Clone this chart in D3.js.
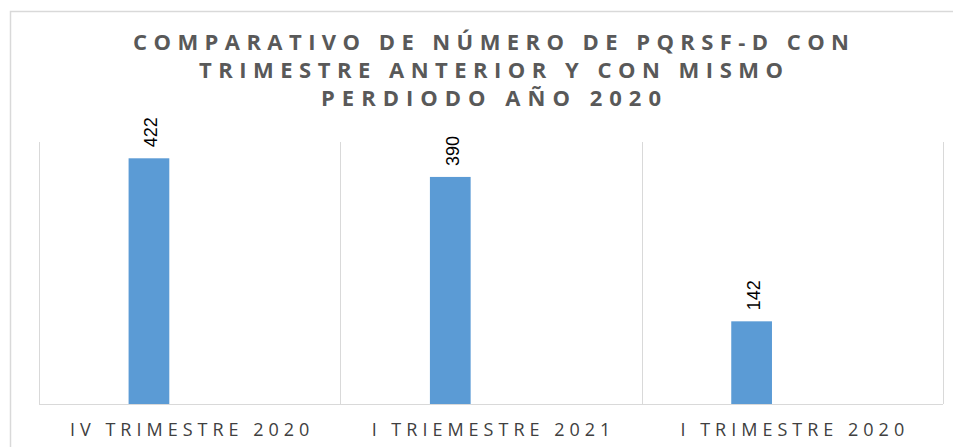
<!DOCTYPE html>
<html>
<head>
<meta charset="utf-8">
<script src="https://cdn.jsdelivr.net/npm/d3@7"></script>
<style>
  html, body { margin: 0; padding: 0; background: #ffffff; }
  svg { display: block; }
</style>
</head>
<body>
<div id="chart"></div>
<script>
// ---- data ----
const titleLines = [
  "COMPARATIVO DE NÚMERO DE PQRSF-D CON",
  "TRIMESTRE ANTERIOR Y CON MISMO",
  "PERDIODO AÑO 2020"
];
const categories = ["IV TRIMESTRE 2020", "I TRIEMESTRE 2021", "I TRIMESTRE 2020"];
const values = [422, 390, 142];
const seriesSlots = ["serie1", "serie2", "serie3"];
const yDomain = [0, 450];

// ---- layout ----
const W = 953, H = 447;
const plot = { left: 39, right: 943, top: 142, bottom: 404 };

const svg = d3.select("#chart").append("svg")
  .attr("width", W).attr("height", H);

// outer chart border (partially visible)
svg.append("rect")
  .attr("x", 10.5).attr("y", 11.5)
  .attr("width", 962).attr("height", 460)
  .attr("fill", "#ffffff")
  .attr("stroke", "#d9d9d9").attr("stroke-width", 1.5);

const x = d3.scaleBand().domain(categories).range([plot.left, plot.right]).padding(0);
const xInner = d3.scaleBand().domain(seriesSlots).range([0, x.bandwidth()])
  .paddingInner(0).paddingOuter(2.2);
const y = d3.scaleLinear().domain(yDomain).range([plot.bottom, plot.top]);

// vertical gridlines between categories
const gridX = categories.map(c => x(c)).concat([x(categories[categories.length - 1]) + x.bandwidth()]);
svg.append("g").selectAll("line").data(gridX).join("line")
  .attr("x1", d => Math.round(d) + 0.5).attr("x2", d => Math.round(d) + 0.5)
  .attr("y1", y(yDomain[1])).attr("y2", y(0))
  .attr("stroke", "#d9d9d9").attr("stroke-width", 1);

// x axis baseline
svg.append("line")
  .attr("x1", plot.left).attr("x2", plot.right)
  .attr("y1", y(0) + 0.5).attr("y2", y(0) + 0.5)
  .attr("stroke", "#d9d9d9").attr("stroke-width", 1);

// bars
const bars = categories.map((c, i) => ({ cat: c, value: values[i] }));
svg.append("g").selectAll("rect").data(bars).join("rect")
  .attr("x", d => x(d.cat) + xInner("serie1"))
  .attr("y", d => y(d.value))
  .attr("width", xInner.bandwidth())
  .attr("height", d => y(0) - y(d.value))
  .attr("fill", "#5b9bd5");

// data labels (rotated)
svg.append("g").selectAll("text").data(bars).join("text")
  .attr("transform", d => {
    const cx = x(d.cat) + xInner("serie1") + xInner.bandwidth() / 2 + 2;
    const cy = y(d.value) - 11;
    return `translate(${cx},${cy}) rotate(-90)`;
  })
  .attr("dy", "0.35em")
  .attr("text-anchor", "start")
  .attr("font-family", "'Liberation Sans', Arial, sans-serif")
  .attr("font-size", 18)
  .attr("fill", "#000000")
  .text(d => d.value);

// category labels
const catSpacing = 5;
svg.append("g").selectAll("text").data(categories).join("text")
  .attr("x", d => x(d) + x.bandwidth() / 2 + catSpacing / 2)
  .attr("y", 436)
  .attr("text-anchor", "middle")
  .attr("font-family", "'Open Sans', sans-serif")
  .attr("font-size", 18)
  .attr("letter-spacing", catSpacing + "px")
  .attr("fill", "#404040")
  .text(d => d);

// title
const titleWidths = [716, 584, 340];
svg.append("g").selectAll("text").data(titleLines).join("text")
  .attr("x", 491)
  .attr("y", (d, i) => 50 + i * 28)
  .attr("text-anchor", "middle")
  .attr("font-family", "'Open Sans', sans-serif")
  .attr("font-weight", 700)
  .attr("font-size", 22)
  .attr("fill", "#595959")
  .attr("textLength", (d, i) => titleWidths[i])
  .attr("lengthAdjust", "spacing")
  .text(d => d);
</script>
</body>
</html>
